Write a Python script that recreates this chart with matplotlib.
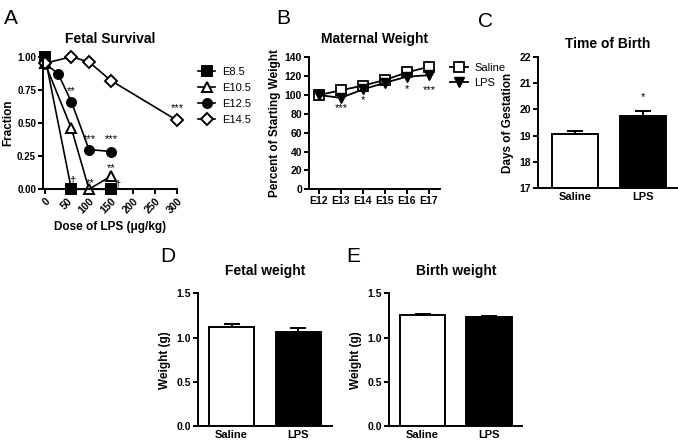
import matplotlib
matplotlib.use("Agg")
import matplotlib.pyplot as plt
from matplotlib.ticker import FormatStrFormatter

plt.rcParams['font.family'] = ['Liberation Sans', 'DejaVu Sans']
plt.rcParams['font.weight'] = 'bold'
plt.rcParams['axes.titleweight'] = 'bold'
plt.rcParams['axes.labelweight'] = 'bold'

# ---- data ----
# A: fetal survival vs LPS dose
dose_e85 = [0, 60, 150]
surv_e85 = [1.0, 0.0, 0.0]
dose_e105 = [0, 60, 100, 150]
surv_e105 = [0.95, 0.46, 0.0, 0.10]
dose_e125 = [0, 30, 60, 100, 150]
surv_e125 = [0.95, 0.87, 0.66, 0.30, 0.285]
dose_e145 = [0, 60, 100, 150, 300]
surv_e145 = [0.95, 1.0, 0.96, 0.82, 0.52]
sig_a = [(60, 0.74, '**'), (100, 0.38, '***'), (150, 0.38, '***'), (300, 0.61, '***'),
         (150, 0.16, '**'), (102, 0.05, '**'), (62, 0.06, '\u2020'), (165, 0.03, '\u2020')]

# B: maternal weight (% of starting)
days = ['E12', 'E13', 'E14', 'E15', 'E16', 'E17']
saline_wt = [100, 105, 110, 116, 124, 130]
lps_wt = [100, 97, 106, 113, 119.5, 121]
sig_b = [(1, 86, '***'), (2, 95, '*'), (4, 106, '*'), (5, 105, '***')]

# C-E: bar charts
groups = ['Saline', 'LPS']
birth_day = [19.05, 19.75]
birth_day_err = [0.14, 0.20]
fetal_wt = [1.12, 1.063]
fetal_wt_err = [0.03, 0.045]
birth_wt = [1.255, 1.23]
birth_wt_err = [0.012, 0.015]

W, H = 678, 443
fig = plt.figure(figsize=(W / 100, H / 100), dpi=100)


def box(l, t, r, b):
    return [l / W, 1 - b / H, (r - l) / W, (b - t) / H]


def style(ax):
    for s in ('top', 'right'):
        ax.spines[s].set_visible(False)
    for s in ('left', 'bottom'):
        ax.spines[s].set_linewidth(1.4)
    ax.tick_params(width=1.4, length=3.5, labelsize=7.5, pad=1.5)


def bar_panel(ax, vals, errs, ylim, yticks, ylabel, title, fmt, pad):
    style(ax)
    x = range(len(groups))
    ax.bar(x, [v - ylim[0] for v in vals], bottom=ylim[0], width=0.68,
           color=['white', 'black'], edgecolor='black', linewidth=1.4,
           yerr=[[0, 0], errs], error_kw=dict(ecolor='black', elinewidth=1.4, capsize=6, capthick=1.4))
    ax.set_xlim(-0.5, 1.5)
    ax.set_ylim(*ylim)
    ax.set_yticks(yticks)
    ax.yaxis.set_major_formatter(FormatStrFormatter(fmt))
    ax.set_xticks(list(x))
    ax.set_xticklabels(groups, fontsize=8)
    ax.tick_params(axis='x', length=0, pad=3)
    ax.set_ylabel(ylabel, fontsize=8.5, labelpad=4)
    ax.set_title(title, fontsize=10, pad=pad)


# ---- A ----
axA = fig.add_axes(box(43, 56.7, 177, 189.3))
style(axA)
axA.tick_params(axis='y', labelsize=7)
mk = dict(color='black', lw=1.2, clip_on=False, mew=1.4)
axA.plot(dose_e85, surv_e85, marker='s', ms=6.5, label='E8.5', **mk)
axA.plot(dose_e105, surv_e105, marker='^', ms=7.5, mfc='white', label='E10.5', **mk)
axA.plot(dose_e125, surv_e125, marker='o', ms=6.5, label='E12.5', **mk)
axA.plot(dose_e145, surv_e145, marker='D', ms=6.5, mfc='white', label='E14.5', **mk)
for x, y, s in sig_a:
    axA.text(x, y, s, ha='center', va='center', fontsize=8, fontweight='normal')
axA.set_xlim(-4.5, 300)
axA.set_ylim(0, 1.0)
axA.set_xticks(range(0, 301, 50))
axA.set_yticks([0, 0.25, 0.5, 0.75, 1.0])
axA.yaxis.set_major_formatter(FormatStrFormatter('%.2f'))
plt.setp(axA.get_xticklabels(), rotation=45, ha='right', rotation_mode='anchor')
axA.set_xlabel('Dose of LPS (\u03bcg/kg)', fontsize=8.5, labelpad=4)
axA.set_ylabel('Fraction', fontsize=8.5, labelpad=2)
axA.set_title('Fetal Survival', fontsize=10, pad=10)
axA.legend(loc='upper left', bbox_to_anchor=(1.08, 1.0), frameon=False,
           handlelength=1.6, handletextpad=0.6, labelspacing=0.55, prop={'weight': 'normal', 'size': 8})

# ---- B ----
axB = fig.add_axes(box(309, 57.3, 440, 189.3))
style(axB)
xb = range(len(days))
axB.plot(xb, saline_wt, marker='s', ms=7, mfc='white', color='black', lw=1.3, mew=1.3,
         label='Saline', clip_on=False)
axB.plot(xb, lps_wt, marker='v', ms=7, color='black', lw=1.3, label='LPS', clip_on=False)
for x, y, s in sig_b:
    axB.text(x, y, s, ha='center', va='center', fontsize=8, fontweight='normal')
axB.set_xlim(-0.45, 5.5)
axB.set_ylim(0, 140)
axB.set_yticks(range(0, 141, 20))
axB.set_xticks(list(xb))
axB.set_xticklabels(days, fontsize=7.5)
axB.set_ylabel('Percent of Starting Weight', fontsize=8.5, labelpad=3)
axB.set_title('Maternal Weight', fontsize=10, pad=10)
axB.legend(loc='upper left', bbox_to_anchor=(1.0, 1.03), frameon=False,
           handlelength=1.6, handletextpad=0.6, labelspacing=0.45, prop={'weight': 'normal', 'size': 8})

# ---- C ----
axC = fig.add_axes(box(538, 56.7, 677, 188.3))
bar_panel(axC, birth_day, birth_day_err, (17, 22), range(17, 23), 'Days of Gestation',
          'Time of Birth', '%d', 6)
axC.set_xlim(-0.55, 1.5)
axC.text(1, 20.45, '*', ha='center', va='center', fontsize=8, fontweight='normal')

# ---- D ----
axD = fig.add_axes(box(198.3, 293.3, 331.7, 426))
bar_panel(axD, fetal_wt, fetal_wt_err, (0, 1.5), [0, 0.5, 1.0, 1.5], 'Weight (g)',
          'Fetal weight', '%.1f', 13)

# ---- E ----
axE = fig.add_axes(box(389.3, 293.3, 522.3, 426))
bar_panel(axE, birth_wt, birth_wt_err, (0, 1.5), [0, 0.5, 1.0, 1.5], 'Weight (g)',
          'Birth weight', '%.1f', 13)

# panel letters
for lbl, x, y in [('A', 4, 24), ('B', 276, 24), ('C', 478, 27), ('D', 160, 262), ('E', 346, 262)]:
    fig.text(x / W, 1 - y / H, lbl, fontsize=15, fontweight='normal', ha='left', va='baseline')

fig.savefig('out.png', dpi=100)
